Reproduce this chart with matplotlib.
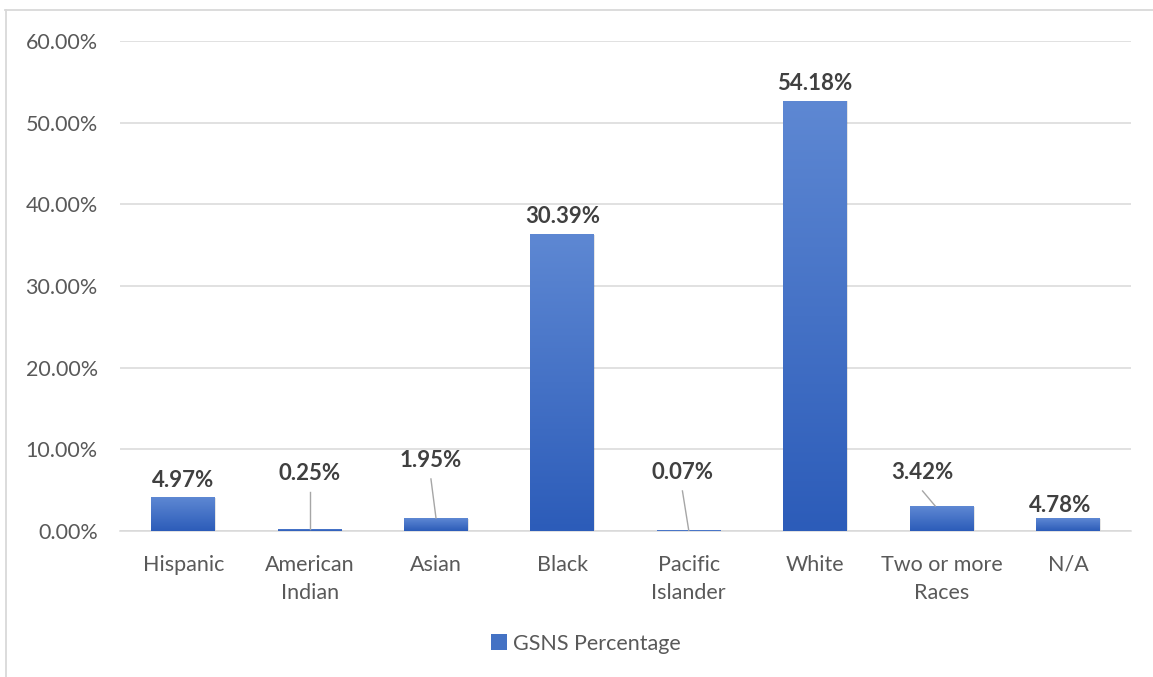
"""Bar chart of GSNS percentage by race / ethnicity."""

import matplotlib
matplotlib.use("Agg")
import matplotlib.pyplot as plt
import numpy as np
from matplotlib.colors import LinearSegmentedColormap
from matplotlib.lines import Line2D
from matplotlib.patches import Patch

plt.rcParams["font.family"] = ["Lato", "DejaVu Sans"]

categories = ["Hispanic", "American\nIndian", "Asian", "Black",
              "Pacific\nIslander", "White", "Two or more\nRaces", "N/A"]
# bar heights as drawn (percent)
bar_values = [4.16, 0.25, 1.59, 36.4, 0.07, 52.7, 3.06, 1.59]
# data labels as printed on the chart
label_texts = ["4.97%", "0.25%", "1.95%", "30.39%", "0.07%", "54.18%", "3.42%", "4.78%"]
y_ticks = [0, 10, 20, 30, 40, 50, 60]
series_name = "GSNS Percentage"

# label placement: (label x offset, label centre y or None = just above bar,
#                   leader line end x offset or None = no leader)
label_layout = [
    (0.0, None, None),
    (0.0, 6.98, 0.0),
    (-0.04, 8.57, 0.0),
    (0.0, None, None),
    (-0.05, 7.1, 0.0),
    (0.0, None, None),
    (-0.15, 7.1, -0.05),
    (-0.06, 3.06, None),
]

TICK_COLOR = "#595959"
LABEL_COLOR = "#404040"
GRID_COLOR = "#d9d9d9"
FS = 15.5

fig = plt.figure(figsize=(11.53, 6.77), dpi=100)
ax = fig.add_axes([0.1041, 0.2157, 0.8769, 0.7237])

x = np.arange(len(categories))
bar_width = 0.506
bars = ax.bar(x, bar_values, width=bar_width, color="none", edgecolor="none", zorder=3)

grad = LinearSegmentedColormap.from_list("bar", ["#2c5cb9", "#5e88d3"])
gradient = np.linspace(0, 1, 256).reshape(-1, 1)
for rect in bars:
    x0 = rect.get_x()
    h = rect.get_height()
    if h <= 0:
        continue
    # soft shadow
    ax.add_patch(plt.Rectangle((x0 + 0.008, -0.15), bar_width, h + 0.05,
                               facecolor="#000000", alpha=0.10, edgecolor="none", zorder=2))
    im = ax.imshow(gradient, extent=[x0, x0 + bar_width, 0, h], origin="lower",
                   cmap=grad, aspect="auto", zorder=3, interpolation="bilinear")
    im.set_clip_path(rect)

ax.set_xlim(-0.5, len(categories) - 0.5)
ax.set_ylim(0, 60)
ax.set_yticks(y_ticks)
ax.set_yticklabels([f"{v:.2f}%" for v in y_ticks])
ax.set_xticks(x)
ax.set_xticklabels(categories, linespacing=1.5)
ax.tick_params(axis="both", length=0, labelsize=FS, labelcolor=TICK_COLOR)
ax.tick_params(axis="y", pad=16)
ax.tick_params(axis="x", pad=17)
ax.grid(axis="y", color=GRID_COLOR, linewidth=1.1, zorder=0)
ax.set_axisbelow(True)
for side in ["top", "right", "left"]:
    ax.spines[side].set_visible(False)
ax.spines["bottom"].set_color(GRID_COLOR)
ax.spines["bottom"].set_linewidth(1.1)

for i, (text, (dx, ly, end_dx)) in enumerate(zip(label_texts, label_layout)):
    top = bar_values[i]
    lx = x[i] + dx
    if ly is None:
        ly = top + 2.08
    ax.text(lx, ly, text, ha="center", va="center", fontsize=16,
            fontweight="bold", color=LABEL_COLOR, zorder=5)
    if end_dx is not None:
        ax.plot([lx, x[i] + end_dx], [ly - 2.2, top],
                color="#a6a6a6", linewidth=1.0, zorder=4)

handle = Patch(facecolor="#4472c4", edgecolor="none")
fig.legend([handle], [series_name], loc="center", bbox_to_anchor=(0.508, 0.049),
           frameon=False, fontsize=FS, labelcolor=TICK_COLOR,
           handlelength=0.75, handleheight=0.75, handletextpad=0.3)

# chart-area border (top and left visible)
fig.add_artist(Line2D([5 / 1153, 1.0], [1 - 9.5 / 677] * 2, transform=fig.transFigure,
                      color="#d9d9d9", linewidth=1.3))
fig.add_artist(Line2D([5.5 / 1153] * 2, [0, 1 - 9.5 / 677], transform=fig.transFigure,
                      color="#d9d9d9", linewidth=1.3))

fig.savefig("out.png", dpi=100)
